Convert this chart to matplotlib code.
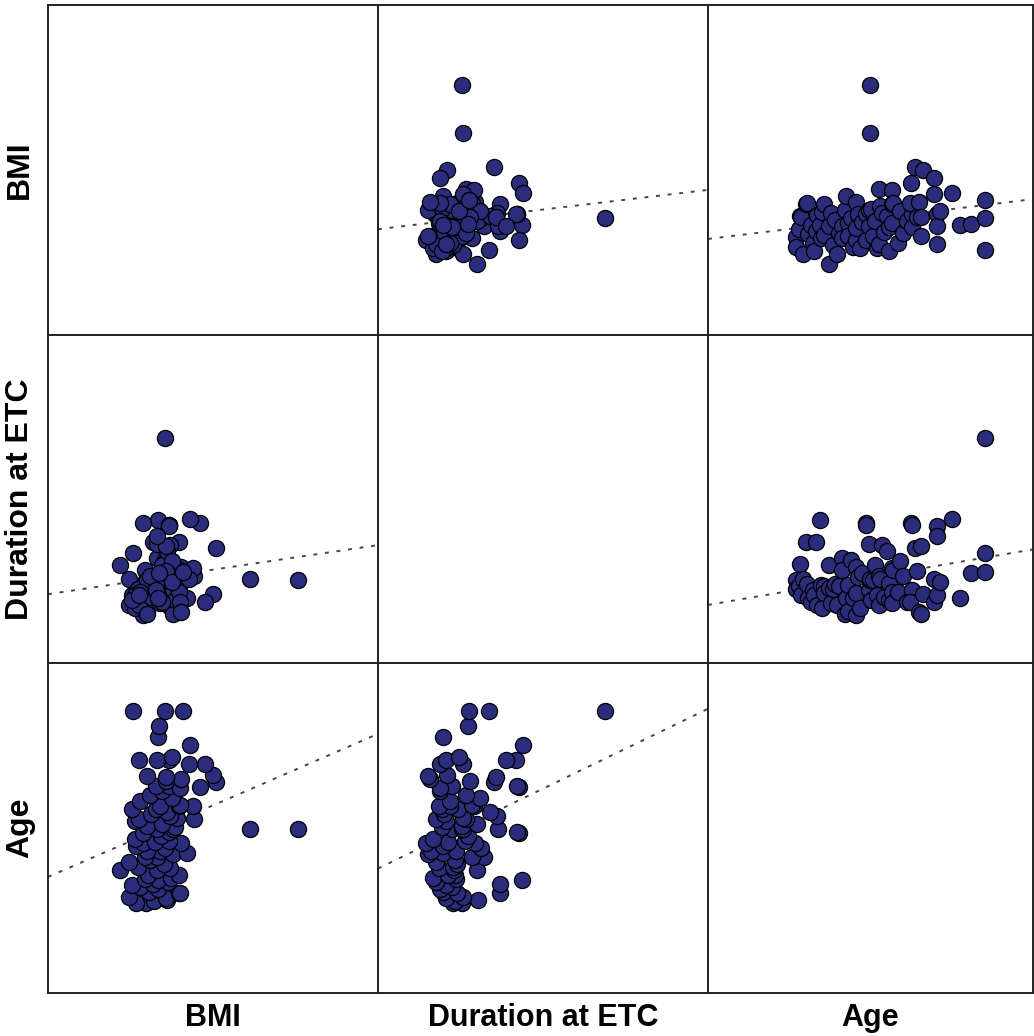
import numpy as np
import matplotlib
matplotlib.use('Agg')
import matplotlib.pyplot as plt

## variables of the scatterplot matrix (one entry per subject)
names = ['BMI', 'Duration at ETC', 'Age']

age = [26.3, 26.3, 26.8, 27.0, 27.2, 27.5, 28.1, 28.2, 28.4,
       29.0, 29.3, 29.6, 29.9, 30.2, 30.6, 30.8, 31.0, 31.5, 31.5,
       32.4, 32.4, 32.7, 33.0, 33.5, 33.9, 34.2, 34.8, 34.8,
       35.3, 35.5, 35.8, 35.8, 36.4, 36.7, 37.3, 37.3, 37.4, 37.6, 38.0, 38.5,
       39.1, 39.2, 39.8, 39.8, 39.9, 39.9, 40.1, 40.4, 40.8, 41.2, 41.6, 41.6, 41.8, 42.2, 42.5,
       43.0, 43.4, 43.4, 44.0, 44.0, 44.0, 44.1, 45.0, 45.5, 46.0, 46.8,
       47.4, 47.6, 47.7, 47.3, 48.3, 48.5, 49.0, 49.3, 49.4, 49.6,
       51.7, 51.7, 52.3, 52.3, 52.3, 52.9,
       55.1, 56.6, 58.5, 61.2, 61.2, 61.2]

bmi = [23.9, 23.0, 24.6, 25.8, 25.7, 22.4, 26.9, 27.0, 24.2,
       25.0, 23.4, 22.6, 24.5, 25.9, 25.0, 23.8, 26.2, 26.9, 24.1,
       24.9, 21.5, 26.1, 23.2, 25.5, 22.4, 24.3, 24.9, 23.8,
       26.4, 27.6, 25.2, 24.0, 25.6, 23.0, 27.1, 23.6, 24.7, 26.0, 22.9, 25.3,
       23.6, 26.0, 24.9, 26.4, 37.7, 33.4, 26.5, 24.0, 25.4, 22.9, 28.3, 23.3, 26.7, 26.1, 24.4,
       25.8, 22.6, 24.8, 28.2, 26.9, 25.2, 27.0, 23.4, 26.3, 24.3, 25.4,
       28.8, 26.0, 24.8, 27.0, 30.3, 25.7, 27.1, 25.7, 24.0, 30.0,
       29.3, 27.8, 26.0, 24.9, 23.3, 26.3,
       27.9, 25.0, 25.1, 27.3, 25.6, 22.7]

duration = [7.6, 6.8, 7.0, 9.1, 6.2, 7.7, 11.1, 7.2, 5.9,
            5.6, 6.7, 6.2, 11.1, 5.3, 13.1, 7.1, 5.0, 7.0, 6.4,
            6.9, 9.0, 5.5, 6.8, 7.2, 5.3, 7.0, 9.6, 8.5,
            4.5, 5.9, 7.1, 4.8, 9.4, 5.9, 8.8, 4.4, 6.4, 7.9, 5.0, 8.2,
            12.8, 12.6, 10.9, 6.7, 7.6, 7.7, 5.8, 7.6, 9.0, 6.2, 8.0, 5.3, 7.7, 10.8, 6.0,
            10.2, 5.8, 7.3, 8.7, 6.5, 5.5, 8.5, 6.5, 9.3, 8.0, 5.6,
            12.8, 12.6, 6.7, 5.6, 10.5, 8.4, 4.7, 10.7, 4.5, 6.3,
            5.6, 7.7, 12.5, 11.6, 6.2, 7.4,
            13.2, 5.9, 8.2, 8.3, 20.6, 10.1]

data = [np.array(bmi), np.array(duration), np.array(age)]
limits = [(15, 45), (0, 30), (10, 70)]   ## axis range for each variable

pointcolor = '#2b2d7c'

fig, axs = plt.subplots(3, 3, figsize=(10.34, 10.36), dpi=100,
                        gridspec_kw={'width_ratios': [330, 330, 325],
                                     'height_ratios': [330, 328, 330]})
fig.subplots_adjust(left=48 / 1034, right=1033 / 1034, top=1 - 5 / 1036,
                    bottom=1 - 993 / 1036, wspace=0, hspace=0)

for i in range(3):      # row -> y variable
    for j in range(3):  # column -> x variable
        ax = axs[i, j]
        ax.set_xlim(limits[j])
        ax.set_ylim(limits[i])
        ax.set_xticks([])
        ax.set_yticks([])
        for sp in ax.spines.values():
            sp.set_linewidth(1.4)
            sp.set_color('#222222')
        if i == j:
            continue
        x = data[j]
        y = data[i]
        ax.scatter(x, y, s=135, facecolor=pointcolor, edgecolor='black',
                   linewidth=0.9, zorder=3)
        ## linear fit over the full panel width
        b, a = np.polyfit(x, y, 1)
        xx = np.array(limits[j], dtype=float)
        ax.plot(xx, a + b * xx, color='#444444', lw=1.4,
                ls=(0, (2.0, 4.0)), zorder=2)

## labels of the matrix, centred on each column / row
for k in range(3):
    pos_x = axs[2, k].get_position()
    fig.text((pos_x.x0 + pos_x.x1) / 2, 1 - 1018 / 1036, names[k],
             ha='center', va='center', fontsize=22, fontweight='bold',
             family='Liberation Sans')
    pos_y = axs[k, 0].get_position()
    fig.text(20 / 1034, (pos_y.y0 + pos_y.y1) / 2, names[k], rotation=90,
             ha='center', va='center', fontsize=23, fontweight='bold',
             family='Liberation Sans')

fig.savefig('out.png', dpi=100)
